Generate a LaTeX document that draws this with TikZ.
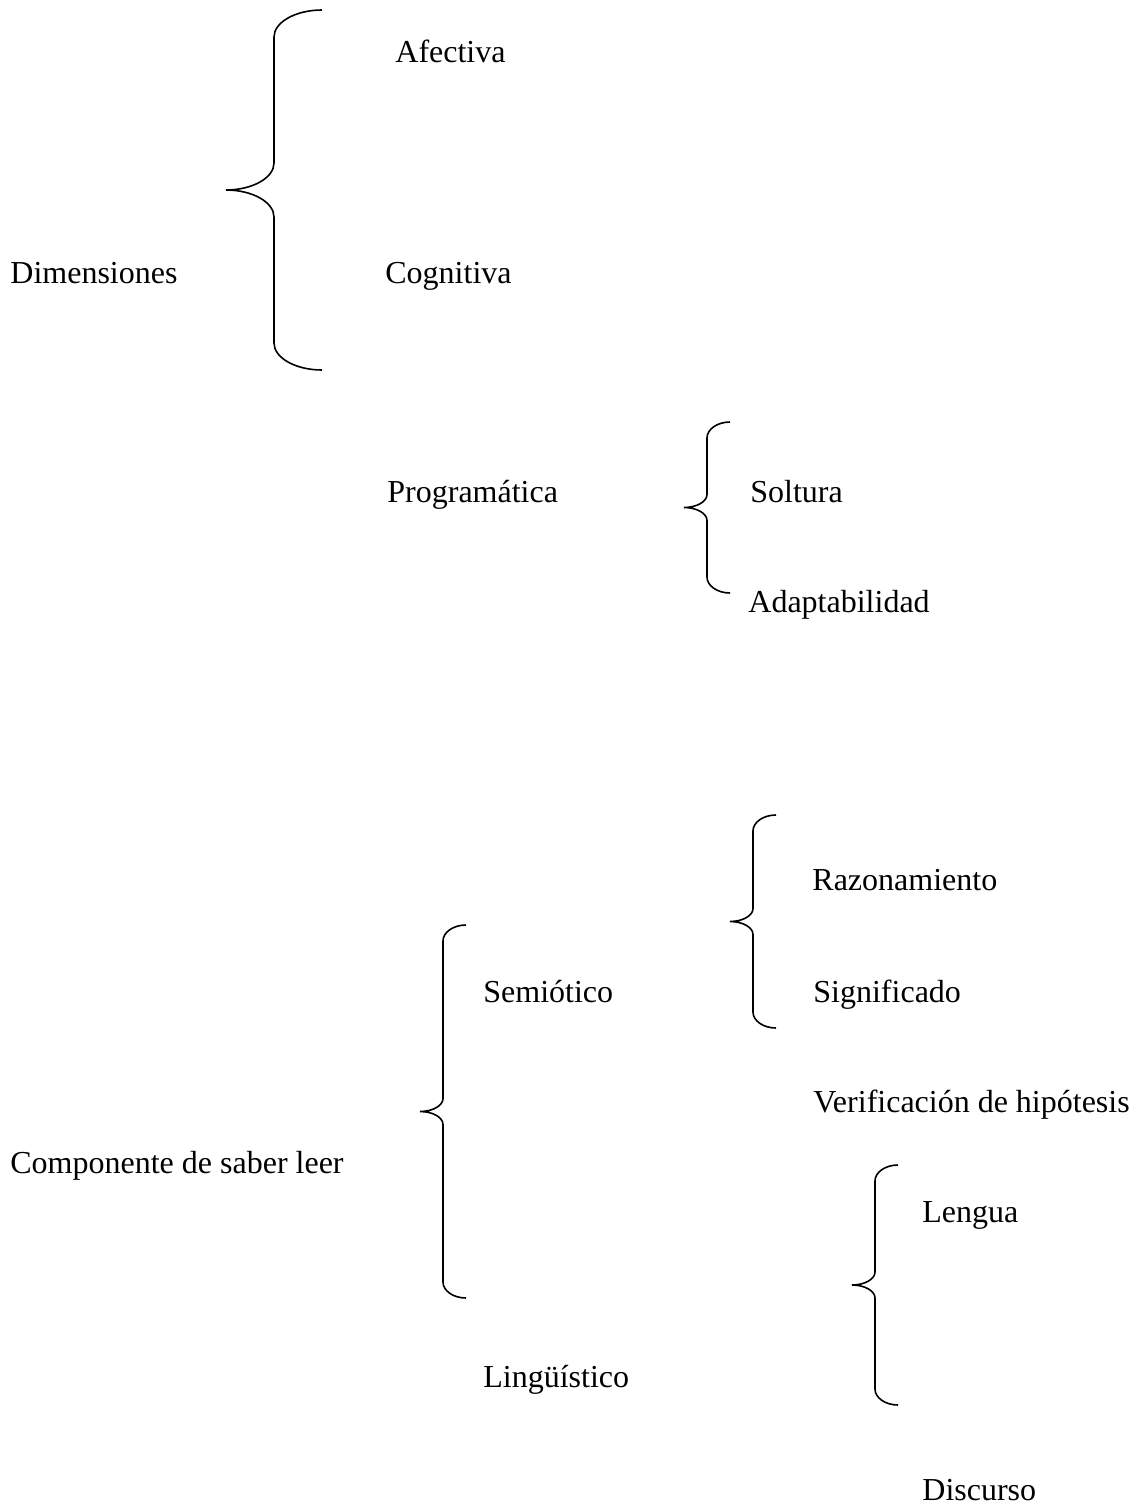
\documentclass[tikz,border=0pt]{standalone}
\usepackage{fontspec}
\setmainfont{Liberation Serif}
\usepackage{tikz}
\usetikzlibrary{calc}

\tikzset{
  etiqueta/.style={anchor=base west, inner sep=0pt, font=\fontsize{16}{19}\selectfont},
  llave/.style n args={3}{line width=0.8pt, to path={
    let \p1=(\tikztostart), \p2=(\tikztotarget), \p3=($(\tikztostart)!0.5!(\tikztotarget)$) in
    (\p1) .. controls +(-0.55*#1,0) and +(0,0.55*#2) .. (\x1-#1,\y1-#2)
    -- (\x1-#1,\y3+#3)
    .. controls +(0,-0.55*#3) and +(0.55*#1,0) .. (\x1-2*#1,\y3)
    .. controls +(0.55*#1,0) and +(0,0.55*#3) .. (\x1-#1,\y3-#3)
    -- (\x1-#1,\y2+#2)
    .. controls +(0,-0.55*#2) and +(-0.55*#1,0) .. (\p2)}}
}

\begin{document}
\begin{tikzpicture}[x=0.5pt,y=-0.5pt]
      \useasboundingbox (0,0) rectangle (1140,1506);

      % dimensiones
      \node[etiqueta] (dim) at (10,283)   {Dimensiones};
      \node[etiqueta] (afe) at (395,62)   {Afectiva};
      \node[etiqueta] (cog) at (385,283)  {Cognitiva};
      \node[etiqueta] (pro) at (387,502)  {Programática};
      \node[etiqueta] (sol) at (750,502)  {Soltura};
      \node[etiqueta] (ada) at (748,612)  {Adaptabilidad};

      % componentes
      \node[etiqueta] (com) at (10,1173)  {Componente de saber leer};
      \node[etiqueta] (sem) at (483,1002) {Semiótico};
      \node[etiqueta] (raz) at (812,890)  {Razonamiento};
      \node[etiqueta] (sig) at (813,1002) {Significado};
      \node[etiqueta] (ver) at (813,1112) {Verificación de hipótesis};
      \node[etiqueta] (lin) at (483,1387) {Lingüístico};
      \node[etiqueta] (len) at (922,1222) {Lengua};
      \node[etiqueta] (dis) at (922,1500) {Discurso};

      \coordinate (b_1t) at (322,10);   \coordinate (b_1b) at (322,370);
      \coordinate (b_2t) at (730,422);  \coordinate (b_2b) at (730,593);
      \coordinate (b_3t) at (776,815);  \coordinate (b_3b) at (776,1028);
      \coordinate (b_4t) at (466,925);  \coordinate (b_4b) at (466,1298);
      \coordinate (b_5t) at (898,1165); \coordinate (b_5b) at (898,1405);

      \draw[llave={24pt}{13.5pt}{13.5pt}]  (b_1t) to (b_1b);
      \draw[llave={11.5pt}{8pt}{6.5pt}]    (b_2t) to (b_2b);
      \draw[llave={11.5pt}{8pt}{6.5pt}]    (b_3t) to (b_3b);
      \draw[llave={11.5pt}{8pt}{6.5pt}]    (b_4t) to (b_4b);
      \draw[llave={11.5pt}{8pt}{6.5pt}]    (b_5t) to (b_5b);
\end{tikzpicture}
\end{document}
